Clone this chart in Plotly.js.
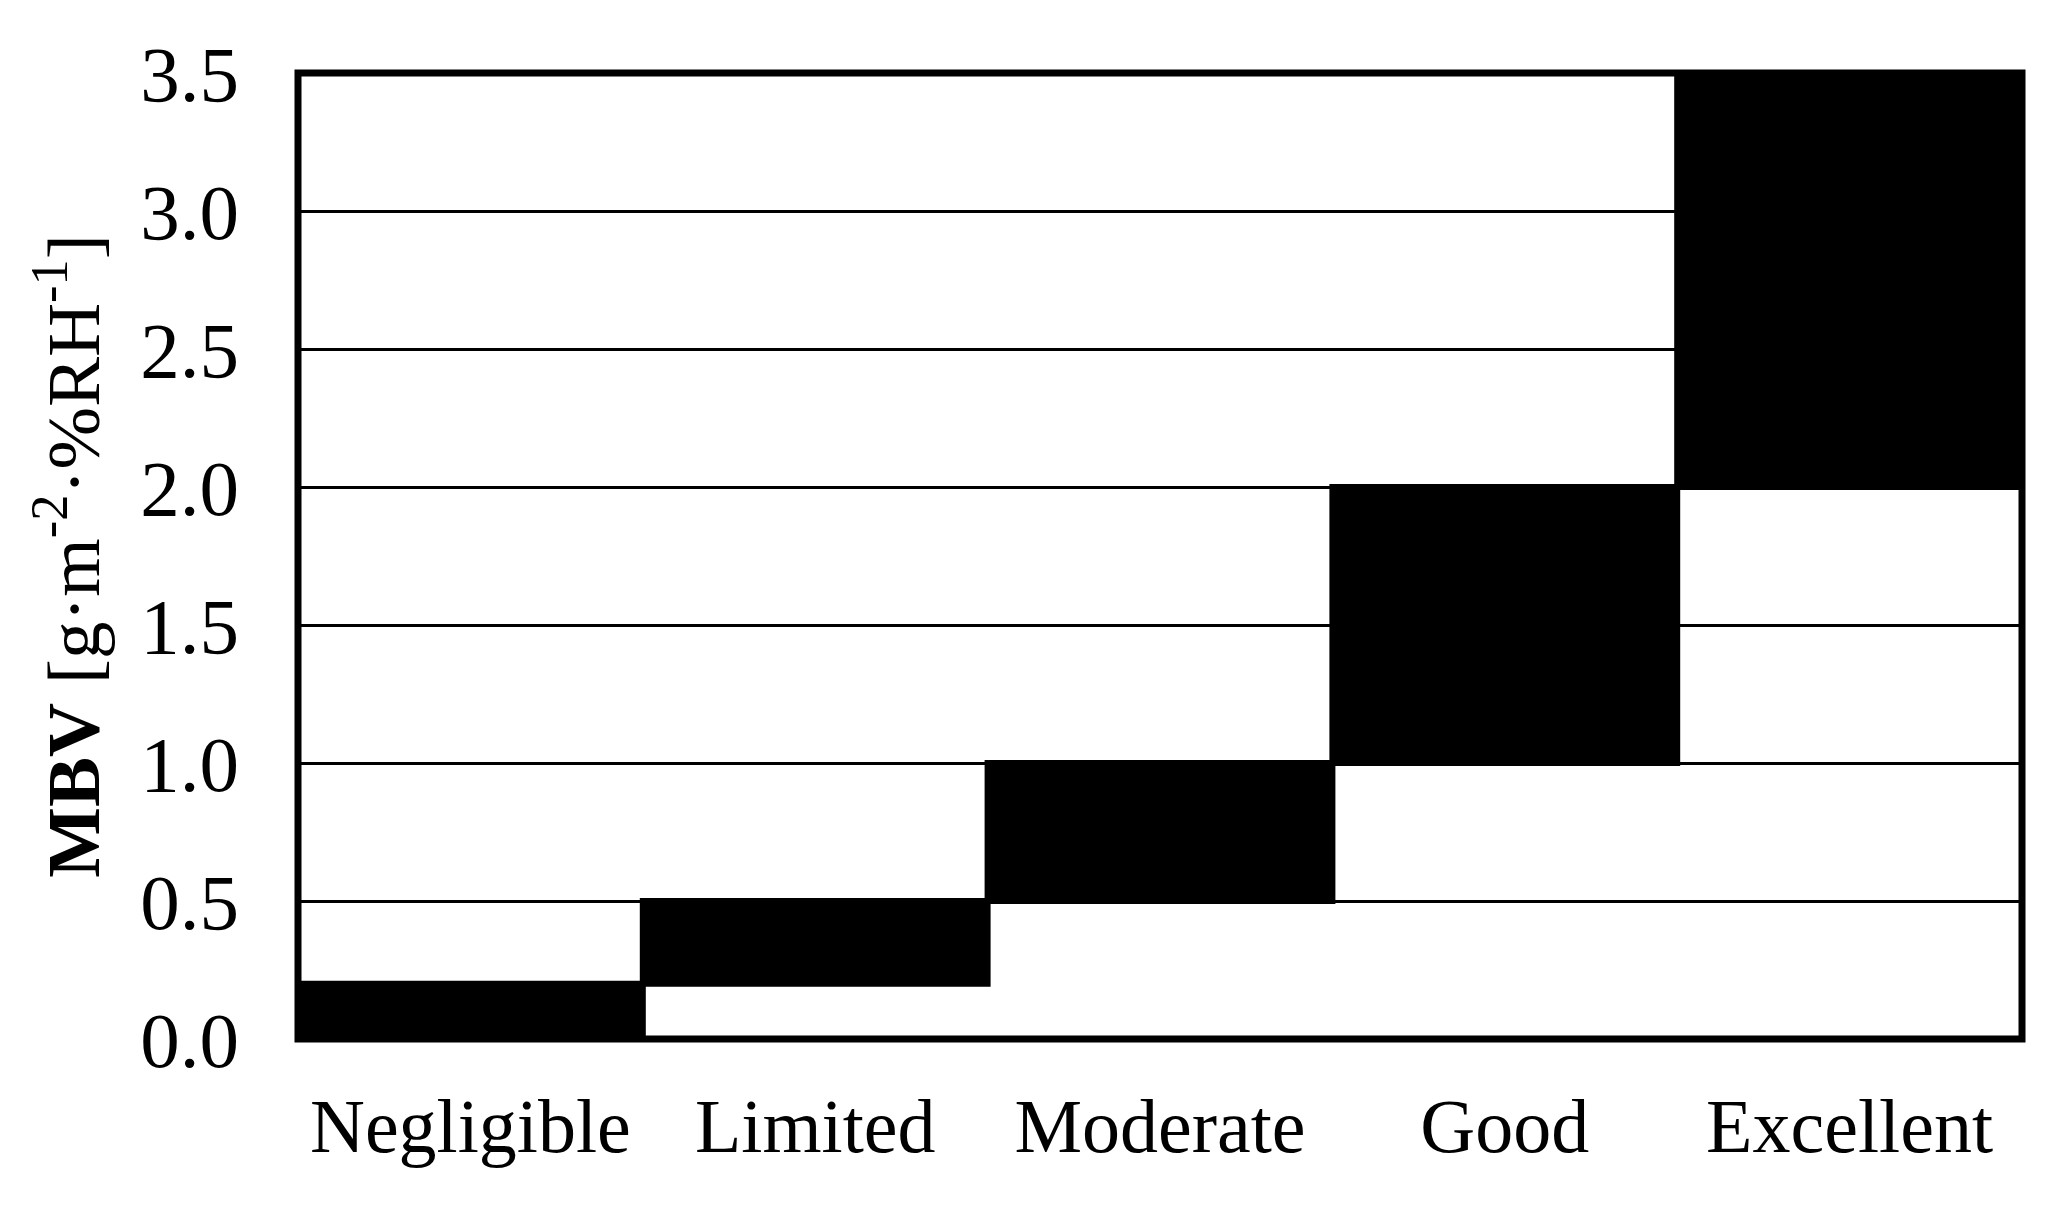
<!DOCTYPE html>
<html>
<head>
<meta charset="utf-8">
<script src="https://cdn.plot.ly/plotly-3.0.1.min.js"></script>
<style>html,body{margin:0;padding:0;background:#fff;}#chart{width:2070px;height:1208px;}</style>
</head>
<body>
<div id="chart"></div>
<script>
// Data
const categories = ["Negligible", "Limited", "Moderate", "Good", "Excellent"];
const lowerMBV = [0.0, 0.2, 0.5, 1.0, 2.0];
const upperMBV = [0.2, 0.5, 1.0, 2.0, 3.5];
const yTickVals = [0, 0.5, 1.0, 1.5, 2.0, 2.5, 3.0, 3.5];

const FONT = "Liberation Serif, Times New Roman, serif";

const trace = {
  type: "bar",
  x: categories,
  base: lowerMBV,
  y: upperMBV.map((u, i) => u - lowerMBV[i]),
  marker: { color: "#000", line: { color: "#000", width: 6 } },
  hoverinfo: "skip"
};

const layout = {
  width: 2070,
  height: 1208,
  margin: { l: 298, r: 48, t: 73, b: 169 },
  paper_bgcolor: "#fff",
  plot_bgcolor: "#fff",
  showlegend: false,
  bargap: 0,
  font: { family: FONT, color: "#000", size: 75 },
  xaxis: {
    type: "category",
    range: [-0.5, 4.5],
    showgrid: false,
    zeroline: false,
    showline: false,
    ticks: "",
    ticklabelstandoff: 36,
    tickfont: { family: FONT, size: 76, color: "#000" }
  },
  yaxis: {
    range: [0, 3.5],
    tickvals: yTickVals,
    tickformat: ".1f",
    showgrid: true,
    gridcolor: "#000",
    gridwidth: 3,
    zeroline: false,
    showline: false,
    ticks: "",
    ticklabelstandoff: 58,
    tickfont: { family: FONT, size: 79, color: "#000" },
    title: {
      text: "<b>MBV</b> [g·m<sup>-2</sup>·%RH<sup>-1</sup>]",
      font: { family: FONT, size: 75, color: "#000" },
      standoff: 16
    }
  },
  shapes: [{
    type: "rect", xref: "paper", yref: "paper",
    x0: 0, x1: 1, y0: 0, y1: 1,
    line: { color: "#000", width: 7 },
    fillcolor: "rgba(0,0,0,0)",
    layer: "above"
  }]
};

Plotly.newPlot("chart", [trace], layout, { staticPlot: true, displayModeBar: false });
</script>
</body>
</html>
